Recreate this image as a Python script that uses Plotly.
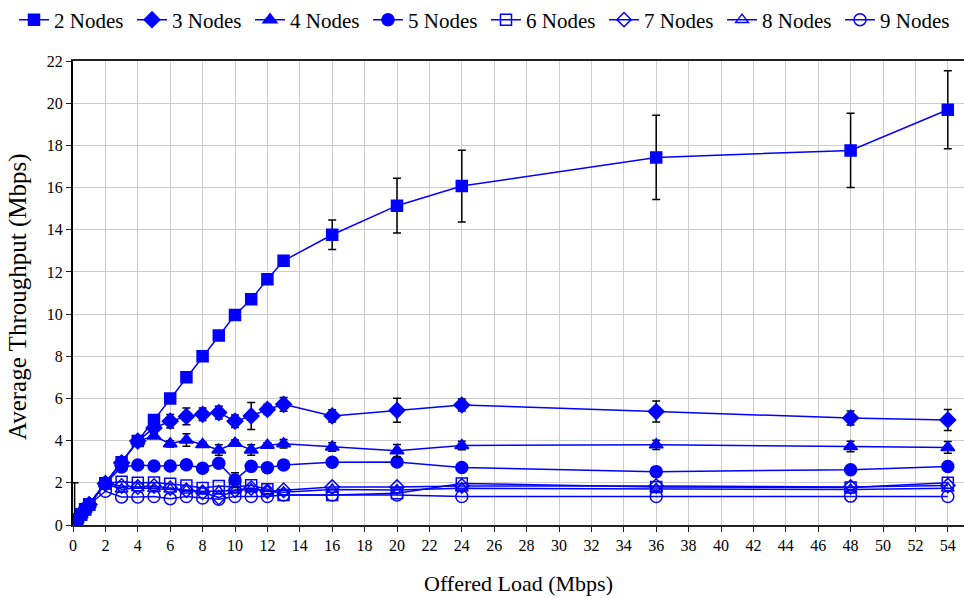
import plotly.graph_objects as go

load = [0.1, 0.25, 0.5, 0.75, 1, 2, 3, 4, 5, 6, 7, 8, 9, 10, 11, 12, 13, 16, 20, 24, 36, 48, 54]
low = [0.1, 0.25, 0.5, 0.75, 0.97]

n2 = low + [1.97, 2.97, 3.98, 4.98, 6.0, 7.0, 8.0, 8.98, 9.96, 10.7, 11.65, 12.53, 13.76, 15.14, 16.07, 17.43, 17.76, 19.69]
e2 = [1.9, 0, 0, 0, 0] + [0, 0, 0, 0, 0, 0, 0, 0, 0.05, 0.2, 0.05, 0, 0.7, 1.3, 1.7, 2.0, 1.76, 1.85]

n3 = low + [1.97, 2.95, 3.98, 4.6, 4.92, 5.15, 5.25, 5.33, 4.92, 5.17, 5.48, 5.72, 5.17, 5.44, 5.69, 5.38, 5.07, 4.98]
e3 = [0] * 5 + [0, 0, 0, 0.1, 0.32, 0.4, 0.3, 0.3, 0.3, 0.64, 0.24, 0.33, 0.29, 0.57, 0.28, 0.5, 0.33, 0.5]

n4 = low + [1.97, 2.95, 3.98, 4.22, 3.85, 4.03, 3.82, 3.56, 3.88, 3.56, 3.78, 3.85, 3.7, 3.52, 3.77, 3.8, 3.72, 3.68]
e4 = [0] * 5 + [0, 0, 0, 0.1, 0.15, 0.3, 0.12, 0.25, 0.15, 0.25, 0.12, 0.2, 0.2, 0.3, 0.2, 0.22, 0.25, 0.28]

n5 = low + [1.97, 2.75, 2.84, 2.8, 2.8, 2.86, 2.69, 2.93, 2.13, 2.78, 2.72, 2.85, 2.98, 2.99, 2.73, 2.53, 2.62, 2.77]
e5 = [0] * 5 + [0, 0, 0, 0, 0, 0, 0, 0, 0.35, 0, 0, 0, 0, 0, 0, 0, 0, 0]

n6 = low + [1.98, 2.05, 2.0, 2.02, 1.95, 1.87, 1.75, 1.85, 1.8, 1.88, 1.7, 1.42, 1.42, 1.5, 1.97, 1.8, 1.78, 2.0]
n7 = low + [1.95, 1.85, 1.8, 1.85, 1.75, 1.65, 1.55, 1.3, 1.65, 1.75, 1.6, 1.65, 1.8, 1.8, 1.85, 1.85, 1.8, 1.87]
n8 = low + [1.95, 1.7, 1.75, 1.72, 1.7, 1.65, 1.6, 1.6, 1.65, 1.7, 1.62, 1.55, 1.68, 1.66, 1.74, 1.72, 1.68, 1.74]
n9 = low + [1.6, 1.33, 1.33, 1.35, 1.25, 1.35, 1.28, 1.22, 1.35, 1.35, 1.35, 1.42, 1.42, 1.42, 1.35, 1.35, 1.37, 1.35]

names = ["2 Nodes", "3 Nodes", "4 Nodes", "5 Nodes", "6 Nodes", "7 Nodes", "8 Nodes", "9 Nodes"]
series = [n2, n3, n4, n5, n6, n7, n8, n9]
errors = [e2, e3, e4, e5, None, None, None, None]
symbols = ["square", "diamond", "triangle-up", "circle",
           "square-open", "diamond-open", "triangle-up-open", "circle-open"]
sizes = [11, 12, 12, 12, 11, 11, 11, 12]

BLUE = "#0000FF"
FONT = "Liberation Serif, Times New Roman, serif"

fig = go.Figure()
traces = []
for i in range(len(series)):
    tr = go.Scatter(
        x=load, y=series[i], name=names[i], mode="lines+markers",
        line=dict(color=BLUE, width=1.5),
        marker=dict(symbol=symbols[i], size=sizes[i], color=BLUE,
                    line=dict(color=BLUE, width=1.5)),
        legend="legend" if i < 4 else "legend2",
    )
    if errors[i] is not None:
        tr.error_y = dict(type="data", array=errors[i], symmetric=True, visible=True,
                          color="black", thickness=1.5, width=4)
    traces.append(tr)

# draw in reverse so 2 Nodes sits on top
for i in range(len(series))[::-1]:
    fig.add_trace(traces[i])

legend_common = dict(orientation="h", xref="container", yref="container",
                     xanchor="left", y=1 - 20 / 598, yanchor="middle",
                     font=dict(family=FONT, size=21), traceorder="reversed",
                     itemwidth=30, tracegroupgap=0, entrywidth=73, entrywidthmode="pixels",
                     bgcolor="rgba(0,0,0,0)")

fig.update_layout(
    width=964, height=598,
    margin=dict(l=73, r=0, t=61, b=73, autoexpand=False),
    paper_bgcolor="white", plot_bgcolor="white",
    font=dict(family=FONT, size=16, color="black"),
    showlegend=True,
    legend=dict(legend_common, x=14 / 964),
    legend2=dict(legend_common, x=486 / 964),
    xaxis=dict(range=[0, 55], tickmode="array", tickvals=list(range(0, 56, 2)),
               showgrid=True, gridcolor="#cccccc", gridwidth=1,
               showline=True, linecolor="#222222", linewidth=2, mirror=True,
               ticks="outside", ticklen=5, tickcolor="#222222", automargin=False,
               tickfont=dict(family=FONT, size=16), zeroline=False,
               title=dict(text="Offered Load (Mbps)", font=dict(family=FONT, size=22), standoff=22)),
    yaxis=dict(range=[0, 22], tickmode="array", tickvals=list(range(0, 23, 2)),
               showgrid=True, gridcolor="#cccccc", gridwidth=1,
               showline=True, linecolor="black", linewidth=2,
               ticks="outside", ticklen=5, tickcolor="#222222", automargin=False,
               tickfont=dict(family=FONT, size=16), zeroline=False),
    annotations=[dict(text="Average Throughput (Mbps)", textangle=-90, showarrow=False,
                      xref="paper", yref="paper", x=(18 - 73) / 891, y=(525 - 297) / 464,
                      xanchor="center", yanchor="middle",
                      font=dict(family=FONT, size=25))],
)

fig.write_html("out.html", config={"displayModeBar": False},
               post_script="document.body.style.margin='0';")
